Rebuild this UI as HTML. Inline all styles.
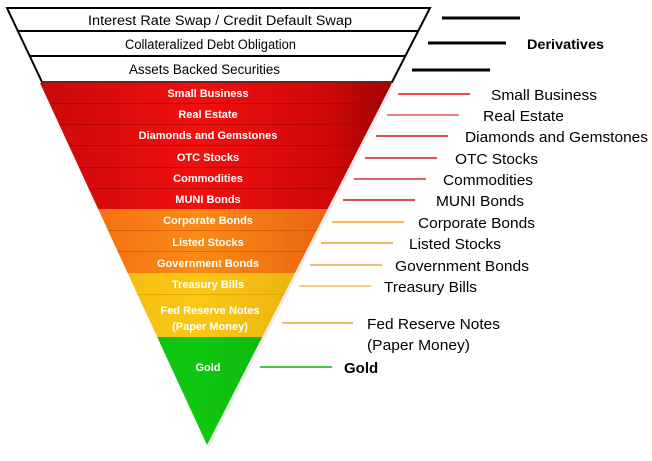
<!DOCTYPE html>
<html><head><style>
html,body{margin:0;padding:0;background:#fff;}
svg{display:block;}
text{font-family:"Liberation Sans",Arial,sans-serif;}
.in{fill:#fff;font-weight:bold;font-size:11px;text-anchor:middle;}
.r{fill:#000;font-size:15px;}
.w{fill:#000;font-size:13.5px;}
</style></head><body>
<svg width="652" height="461" viewBox="0 0 652 461">
<defs>
<clipPath id="tri"><polygon points="40,83 392,83 207,445"/></clipPath>
<linearGradient id="red" x1="0" x2="1"><stop offset="0" stop-color="#c80808"/><stop offset="0.45" stop-color="#f01010"/><stop offset="0.8" stop-color="#d00808"/><stop offset="1" stop-color="#9a0404"/></linearGradient>
<linearGradient id="org" x1="0" x2="1"><stop offset="0" stop-color="#f06010"/><stop offset="0.45" stop-color="#fb8a14"/><stop offset="1" stop-color="#e05010"/></linearGradient>
<linearGradient id="yel" x1="0" x2="1"><stop offset="0" stop-color="#eab010"/><stop offset="0.45" stop-color="#fbc814"/><stop offset="1" stop-color="#d8a010"/></linearGradient>
<linearGradient id="grn" x1="0" x2="1"><stop offset="0" stop-color="#18a818"/><stop offset="0.45" stop-color="#10c810"/><stop offset="1" stop-color="#109a10"/></linearGradient>
</defs>
<polygon points="42,85 394,85 209,448" fill="#ddd" opacity="0.6"/>
<g clip-path="url(#tri)">
<rect x="30" y="83" width="370" height="126" fill="url(#red)"/>
<rect x="30" y="209" width="370" height="64" fill="url(#org)"/>
<rect x="30" y="273" width="370" height="64" fill="url(#yel)"/>
<rect x="30" y="337" width="370" height="110" fill="url(#grn)"/>
<g stroke="#a80000" stroke-width="1" opacity="0.6">
<line x1="30" y1="103.5" x2="400" y2="103.5"/><line x1="30" y1="124.5" x2="400" y2="124.5"/><line x1="30" y1="145.5" x2="400" y2="145.5"/><line x1="30" y1="167.5" x2="400" y2="167.5"/><line x1="30" y1="188.5" x2="400" y2="188.5"/>
</g>
<g stroke="#d04808" stroke-width="1" opacity="0.6"><line x1="30" y1="230.5" x2="400" y2="230.5"/><line x1="30" y1="251.5" x2="400" y2="251.5"/></g>
<line x1="30" y1="294.5" x2="400" y2="294.5" stroke="#e8a800" stroke-width="1"/>
</g>
<polygon points="7,8 430,8 392,82 42,82" fill="#fff" stroke="#000" stroke-width="2"/>
<line x1="18" y1="31" x2="419" y2="31" stroke="#000" stroke-width="2"/>
<line x1="30" y1="56" x2="406" y2="56" stroke="#000" stroke-width="2"/>
<line x1="42" y1="82" x2="392" y2="82" stroke="#e04040" stroke-width="1"/>
<text class="w" x="88" y="25" textLength="264" lengthAdjust="spacingAndGlyphs">Interest Rate Swap / Credit Default Swap</text>
<text class="w" x="125" y="49" textLength="171" lengthAdjust="spacingAndGlyphs">Collateralized Debt Obligation</text>
<text class="w" x="129" y="74" textLength="151" lengthAdjust="spacingAndGlyphs">Assets Backed Securities</text>
<text class="in" x="208" y="97">Small Business</text>
<text class="in" x="208" y="118">Real Estate</text>
<text class="in" x="208" y="139">Diamonds and Gemstones</text>
<text class="in" x="208" y="161">OTC Stocks</text>
<text class="in" x="208" y="182">Commodities</text>
<text class="in" x="208" y="203">MUNI Bonds</text>
<text class="in" x="208" y="224">Corporate Bonds</text>
<text class="in" x="208" y="246">Listed Stocks</text>
<text class="in" x="208" y="267">Government Bonds</text>
<text class="in" x="208" y="288">Treasury Bills</text>
<text class="in" x="210" y="314">Fed Reserve Notes</text>
<text class="in" x="210" y="330">(Paper Money)</text>
<text class="in" x="208" y="371">Gold</text>
<g stroke="#000" stroke-width="3"><line x1="442" y1="18" x2="520" y2="18"/><line x1="428" y1="43" x2="506" y2="43"/><line x1="412" y1="70" x2="490" y2="70"/></g>
<g stroke-width="1.5">
<line x1="398" y1="94" x2="470" y2="94" stroke="#e01010"/>
<line x1="387" y1="115" x2="459" y2="115" stroke="#f05050"/>
<line x1="376" y1="136" x2="448" y2="136" stroke="#c01818"/>
<line x1="365" y1="158" x2="437" y2="158" stroke="#d01818"/>
<line x1="354" y1="179" x2="426" y2="179" stroke="#d83030"/>
<line x1="343" y1="200" x2="415" y2="200" stroke="#d01010"/>
<line x1="332" y1="222" x2="404" y2="222" stroke="#f8a020"/>
<line x1="321" y1="243" x2="393" y2="243" stroke="#f8a020"/>
<line x1="310" y1="265" x2="382" y2="265" stroke="#f0a040"/>
<line x1="299" y1="286" x2="371" y2="286" stroke="#f8b860"/>
<line x1="282" y1="323" x2="353" y2="323" stroke="#f8a030"/>
<line x1="260" y1="367" x2="332" y2="367" stroke="#10b010"/>
</g>
<text x="527" y="49" style="font-weight:bold;font-size:14px" textLength="77" lengthAdjust="spacingAndGlyphs">Derivatives</text>
<text class="r" x="491" y="100" textLength="106" lengthAdjust="spacingAndGlyphs">Small Business</text>
<text class="r" x="483" y="121" textLength="81" lengthAdjust="spacingAndGlyphs">Real Estate</text>
<text class="r" x="465" y="142" textLength="183" lengthAdjust="spacingAndGlyphs">Diamonds and Gemstones</text>
<text class="r" x="455" y="164" textLength="83" lengthAdjust="spacingAndGlyphs">OTC Stocks</text>
<text class="r" x="443" y="185" textLength="90" lengthAdjust="spacingAndGlyphs">Commodities</text>
<text class="r" x="436" y="206" textLength="88" lengthAdjust="spacingAndGlyphs">MUNI Bonds</text>
<text class="r" x="418" y="228" textLength="117" lengthAdjust="spacingAndGlyphs">Corporate Bonds</text>
<text class="r" x="409" y="249" textLength="92" lengthAdjust="spacingAndGlyphs">Listed Stocks</text>
<text class="r" x="395" y="271" textLength="134" lengthAdjust="spacingAndGlyphs">Government Bonds</text>
<text class="r" x="384" y="292" textLength="93" lengthAdjust="spacingAndGlyphs">Treasury Bills</text>
<text class="r" x="367" y="329" textLength="133" lengthAdjust="spacingAndGlyphs">Fed Reserve Notes</text>
<text class="r" x="367" y="350" textLength="103" lengthAdjust="spacingAndGlyphs">(Paper Money)</text>
<text x="344" y="373" style="font-weight:bold;font-size:15px">Gold</text>
</svg>
</body></html>
